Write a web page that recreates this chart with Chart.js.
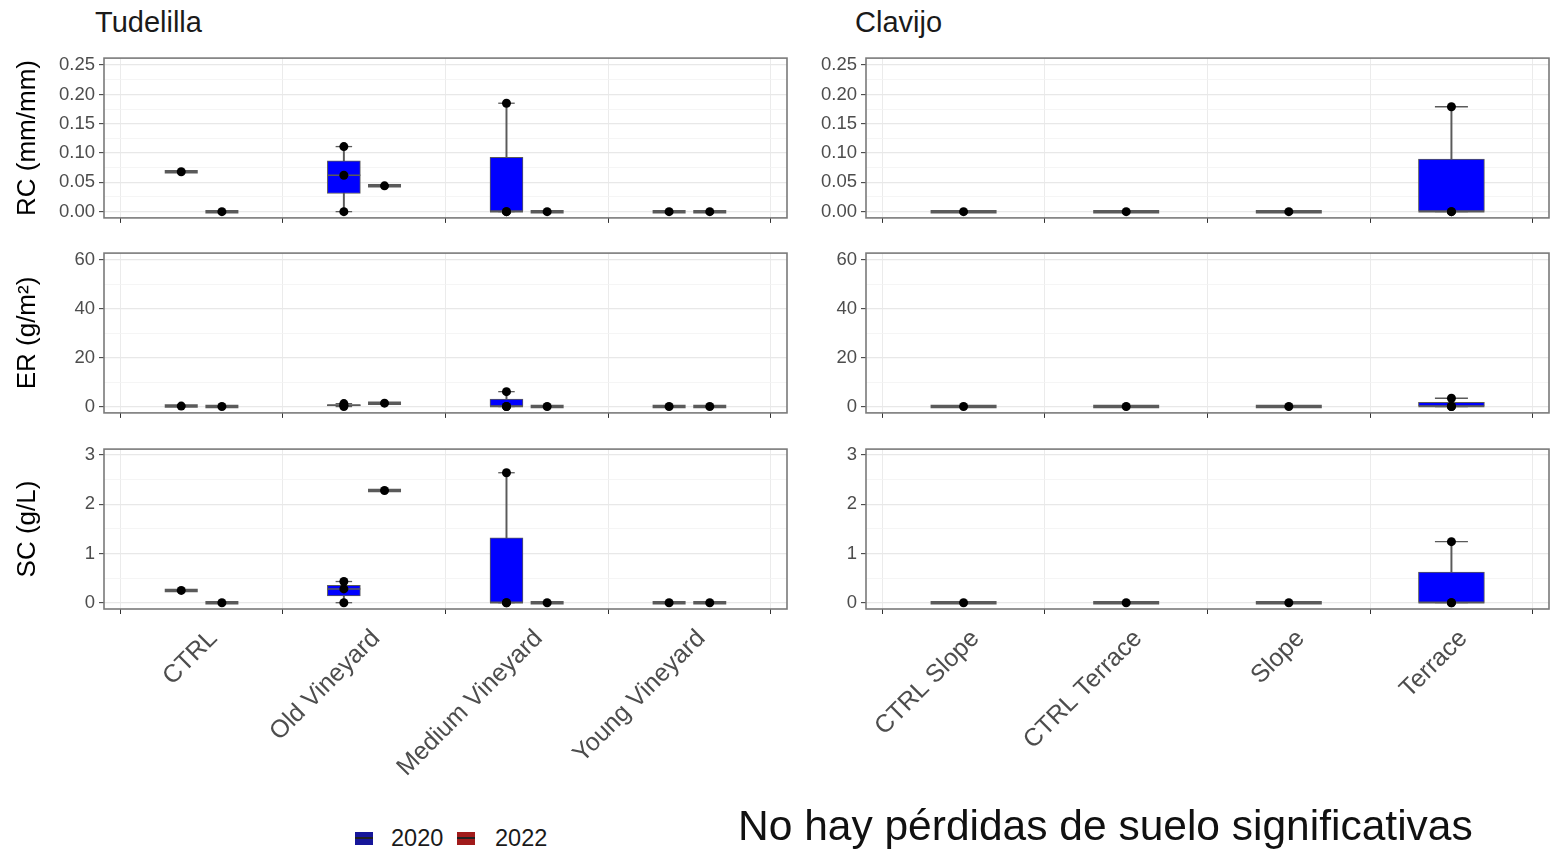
<!DOCTYPE html>
<html>
<head>
<meta charset="utf-8">
<script src="https://cdn.jsdelivr.net/npm/chart.js@4.4.1/dist/chart.umd.min.js"></script>
<style>
  body { margin: 0; background: #fff; width: 1556px; height: 862px; position: relative; overflow: hidden;
         font-family: "Liberation Sans", Arial, sans-serif; }
  canvas { position: absolute; }
  .facet { position: absolute; top: 8px; font-size: 29px; line-height: 1; color: #1a1a1a; }
  .note { position: absolute; left: 738px; top: 805px; font-size: 42.5px; line-height: 1; color: #111; white-space: nowrap; }
  .key { position: absolute; top: 832px; width: 18px; height: 13px; }
  .key::after { content: ""; position: absolute; left: 0; right: 0; top: 5px; height: 2px; background: #222; }
  .keytxt { position: absolute; top: 827px; font-size: 23.5px; line-height: 1; color: #1a1a1a; }
</style>
</head>
<body>

<div class="facet" style="left:95px">Tudelilla</div>
<div class="facet" style="left:855px">Clavijo</div>

<canvas id="tudRC" width="790" height="190" style="left:0;top:43px"></canvas>
<canvas id="tudER" width="790" height="190" style="left:0;top:238px"></canvas>
<canvas id="tudSC" width="790" height="375" style="left:0;top:434px"></canvas>
<canvas id="clavRC" width="766" height="190" style="left:790px;top:43px"></canvas>
<canvas id="clavER" width="766" height="190" style="left:790px;top:238px"></canvas>
<canvas id="clavSC" width="766" height="375" style="left:790px;top:434px"></canvas>

<div class="key" style="left:355px;background:#16169a"></div>
<div class="keytxt" style="left:391px">2020</div>
<div class="key" style="left:457px;background:#a11b1b"></div>
<div class="keytxt" style="left:495px">2022</div>

<div class="note">No hay pérdidas de suelo significativas</div>

<script>
// categories
const tudCats = ['CTRL', 'Old Vineyard', 'Medium Vineyard', 'Young Vineyard'];
const clavCats = ['CTRL Slope', 'CTRL Terrace', 'Slope', 'Terrace'];

// replicate values per category
const tudRC2020 = [[0.068], [0, 0.062, 0.111], [0, 0, 0.185], [0]];
const tudRC2022 = [[0], [0.044], [0], [0]];
const tudER2020 = [[0.2], [0, 0.5, 1.2], [0, 0, 6.1], [0]];
const tudER2022 = [[0], [1.4], [0], [0]];
const tudSC2020 = [[0.25], [0, 0.28, 0.43], [0, 0, 2.64], [0]];
const tudSC2022 = [[0], [2.28], [0], [0]];
const clavRC2020 = [[0], [0], [0], [0, 0, 0.179]];
const clavER2020 = [[0], [0], [0], [0, 0, 3.4]];
const clavSC2020 = [[0], [0], [0], [0, 0, 1.24]];

// y ticks
const rcTicks = [0, 0.05, 0.10, 0.15, 0.20, 0.25];
const rcTickLabels = ['0.00', '0.05', '0.10', '0.15', '0.20', '0.25'];
const erTicks = [0, 20, 40, 60];
const erTickLabels = ['0', '20', '40', '60'];
const scTicks = [0, 1, 2, 3];
const scTickLabels = ['0', '1', '2', '3'];

const BLUE = '#0000ff';
const RED = '#a11b1b';
const LINE = '#5a5a5a';
Chart.defaults.font.family = '"Liberation Sans", Arial, sans-serif';

function quantile(s, p) {
  const h = (s.length - 1) * p;
  const lo = Math.floor(h), hi = Math.ceil(h);
  return s[lo] + (s[hi] - s[lo]) * (h - lo);
}

function boxStats(vals) {
  const s = [...vals].sort((a, b) => a - b);
  return { min: s[0], q1: quantile(s, 0.25), med: quantile(s, 0.5), q3: quantile(s, 0.75), max: s[s.length - 1] };
}

// series: [{data, color, offset}]
function boxDatasets(series, boxW) {
  const whisk = [], boxes = [], fills = [], meds = [], medW = [], caps = [], pts = [];
  series.forEach(s => s.data.forEach((vals, i) => {
    const x = i + 1 + s.offset;
    const st = boxStats(vals);
    whisk.push({ x, y: [st.min, st.max] });
    boxes.push({ x, y: [st.q1, st.q3] });
    fills.push(s.color);
    meds.push({ x, y: st.med });
    medW.push(st.q3 > st.q1 ? 1.5 : 3.5);
    caps.push({ x, y: st.min }, { x, y: st.max });
    vals.forEach(v => pts.push({ x, y: v }));
  }));
  return [
    { type: 'bar', data: whisk, backgroundColor: LINE, barThickness: 1.3, grouped: false, order: 4 },
    { type: 'bar', data: boxes, backgroundColor: fills, borderColor: LINE, borderWidth: 1,
      borderSkipped: false, barThickness: boxW, grouped: false, order: 3 },
    { data: caps, pointStyle: 'line', pointRadius: boxW / 4, pointBorderColor: LINE, pointBorderWidth: 1.3, order: 2 },
    { data: meds, pointStyle: 'line', pointRadius: boxW / 2, pointBorderColor: LINE, pointBorderWidth: medW, order: 1 },
    { data: pts, pointStyle: 'circle', pointRadius: 4.5, pointBackgroundColor: '#000', pointBorderWidth: 0, order: 0 }
  ];
}

const panelFrame = {
  id: 'panelFrame',
  afterDraw(chart) {
    const { ctx, chartArea: a } = chart;
    ctx.save();
    ctx.strokeStyle = '#7a7a7a';
    ctx.lineWidth = 1.6;
    ctx.strokeRect(a.left, a.top, a.right - a.left, a.bottom - a.top);
    ctx.restore();
  }
};

function withMinors(ticks) {
  const out = ticks.map(v => ({ value: v }));
  for (let i = 0; i < ticks.length - 1; i++) out.push({ value: (ticks[i] + ticks[i + 1]) / 2, minor: true });
  return out.sort((a, b) => a.value - b.value);
}

function makePanel(id, cfg) {
  const isMinor = c => c.tick && c.tick.minor;
  new Chart(document.getElementById(id), {
    type: 'scatter',
    data: { datasets: cfg.datasets },
    options: {
      responsive: false,
      animation: false,
      events: [],
      layout: { padding: cfg.padding, autoPadding: false },
      plugins: { legend: { display: false }, tooltip: { enabled: false } },
      scales: {
        x: {
          type: 'linear', min: 0.4, max: 4.6, offset: false,
          afterBuildTicks: ax => { ax.ticks = cfg.cats.map((c, i) => ({ value: i + 1 })); },
          afterFit: ax => { ax.height = cfg.xHeight; },
          ticks: {
            display: cfg.showX, autoSkip: false, minRotation: 45, maxRotation: 45,
            padding: 10, labelOffset: 12,
            color: '#4d4d4d', font: { size: 25 },
            callback: v => cfg.cats[Math.round(v) - 1]
          },
          grid: { color: '#ebebeb', lineWidth: 1, tickLength: 5, tickColor: '#333', tickWidth: 1 },
          border: { display: false }
        },
        y: {
          min: cfg.yMin, max: cfg.yMax,
          afterBuildTicks: ax => { ax.ticks = withMinors(cfg.yTicks); },
          afterFit: ax => { ax.width = cfg.yWidth; },
          ticks: {
            autoSkip: false, padding: 4, color: '#4d4d4d', font: { size: 18.5 },
            callback: (v, i, t) => {
              if (t[i].minor) return '';
              const k = cfg.yTicks.findIndex(y => Math.abs(y - v) < 1e-9);
              return cfg.yLabels[k];
            }
          },
          grid: {
            color: c => isMinor(c) ? '#f3f3f3' : '#e8e8e8',
            lineWidth: c => isMinor(c) ? 0.8 : 1.3,
            tickColor: c => isMinor(c) ? 'rgba(0,0,0,0)' : '#333',
            tickLength: 5, tickWidth: 1
          },
          title: {
            display: !!cfg.yTitle, text: cfg.yTitle, color: '#000',
            font: { size: 26 }, padding: { top: 12, bottom: 0 }
          },
          border: { display: false }
        }
      }
    },
    plugins: [panelFrame]
  });
}

const tudSeries = (a, b) => [
  { data: a, color: BLUE, offset: -0.125 },
  { data: b, color: RED, offset: 0.125 }
];
const clavSeries = a => [{ data: a, color: BLUE, offset: 0 }];

const topPad = { top: 15, bottom: 7 };
const botPad = { top: 15, bottom: 0 };
const left = { yWidth: 104, cats: tudCats };
const right = { yWidth: 76, cats: clavCats };

makePanel('tudRC', { ...left, datasets: boxDatasets(tudSeries(tudRC2020, tudRC2022), 33),
  padding: { ...topPad, left: 0, right: 3 }, xHeight: 8, showX: false,
  yTicks: rcTicks, yLabels: rcTickLabels, yMin: -0.0107, yMax: 0.262, yTitle: 'RC (mm/mm)' });
makePanel('tudER', { ...left, datasets: boxDatasets(tudSeries(tudER2020, tudER2022), 33),
  padding: { ...topPad, left: 0, right: 3 }, xHeight: 8, showX: false,
  yTicks: erTicks, yLabels: erTickLabels, yMin: -2.6, yMax: 62.85, yTitle: 'ER (g/m²)' });
makePanel('tudSC', { ...left, datasets: boxDatasets(tudSeries(tudSC2020, tudSC2022), 33),
  padding: { ...botPad, left: 0, right: 3 }, xHeight: 200, showX: true,
  yTicks: scTicks, yLabels: scTickLabels, yMin: -0.128, yMax: 3.12, yTitle: 'SC (g/L)' });

makePanel('clavRC', { ...right, datasets: boxDatasets(clavSeries(clavRC2020), 66),
  padding: { ...topPad, left: 0, right: 7 }, xHeight: 8, showX: false,
  yTicks: rcTicks, yLabels: rcTickLabels, yMin: -0.0107, yMax: 0.262 });
makePanel('clavER', { ...right, datasets: boxDatasets(clavSeries(clavER2020), 66),
  padding: { ...topPad, left: 0, right: 7 }, xHeight: 8, showX: false,
  yTicks: erTicks, yLabels: erTickLabels, yMin: -2.6, yMax: 62.85 });
makePanel('clavSC', { ...right, datasets: boxDatasets(clavSeries(clavSC2020), 66),
  padding: { ...botPad, left: 0, right: 7 }, xHeight: 200, showX: true,
  yTicks: scTicks, yLabels: scTickLabels, yMin: -0.128, yMax: 3.12 });
</script>
</body>
</html>
